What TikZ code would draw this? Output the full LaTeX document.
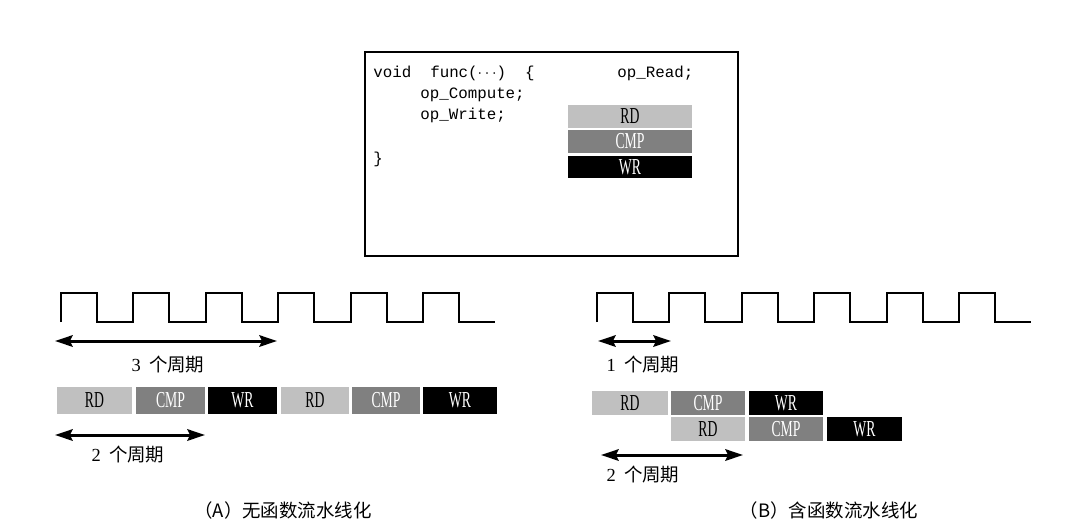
\documentclass[tikz,border=0pt]{standalone}
\usepackage{fontspec}
\setmainfont{Liberation Serif}
\setmonofont{Liberation Mono}
\newfontfamily\cjk{Noto Sans CJK SC}
\usetikzlibrary{arrows.meta, positioning}
\definecolor{StageLight}{RGB}{192,192,192}
\definecolor{StageMid}{RGB}{128,128,128}
\newcommand\narrow[1]{\scalebox{0.6}[1]{#1}}

\begin{document}
\begin{tikzpicture}[x=0.02cm, y=-0.02cm,
    stage/.style={anchor=north west, inner sep=0pt, outer sep=0pt,
      minimum height=0.54cm, font=\fontsize{13}{13}\selectfont},
    rd/.style={stage, fill=StageLight, text=black},
    cmp/.style={stage, fill=StageMid, text=white},
    wr/.style={stage, fill=black, text=white},
    clock/.style={line width=1.1pt, line join=miter},
    cyclespan/.style={{Stealth[length=10pt,width=6.5pt,inset=1.5pt]}-{Stealth[length=10pt,width=6.5pt,inset=1.5pt]}, line width=1.7pt},
    codetext/.style={anchor=base west, inner sep=0pt, font=\ttfamily\fontsize{9}{11}\selectfont},
    cyclelabel/.style={inner sep=0pt, font=\fontsize{10.5}{12}\selectfont},
    caption/.style={inner sep=0pt, font=\cjk\fontsize{10.5}{12}\selectfont}]
    \useasboundingbox (0,0) rectangle (1078,528);

    % Code box
    \node[draw, line width=1.2pt, anchor=north west, inner sep=0pt,
      minimum width=7.46cm, minimum height=4.08cm] (codebox) at (364,51) {};
    \node[codetext] (c1) at (373,77) {void\ \ func($\cdots$)\ \ \{};
    \node[codetext] (c2) at (617,77) {op\_Read;};
    \node[codetext] (c3) at (420,98) {op\_Compute;};
    \node[codetext] (c4) at (420,119) {op\_Write;};
    \node[codetext] (c5) at (373,163) {\}};

    % Stacked stages
    \node[rd, minimum width=2.48cm, minimum height=0.46cm] (s1) at (568,105) {\narrow{RD}};
    \node[cmp, minimum width=2.48cm, minimum height=0.46cm] (s2) at (568,130) {\narrow{CMP}};
    \node[wr, minimum width=2.48cm, minimum height=0.44cm] (s3) at (568,156) {\narrow{WR}};

    % (A) clock
    \draw[clock] (61,322) \foreach \i in {1,...,6} {
      -- ++(0,-29) -- ++(36,0) -- ++(0,29) -- ++(36.4,0) };

    \coordinate (a1) at (55,341);
    \coordinate (a2) at (277,341);
    \draw[cyclespan] (a1) -- (a2);
    \node[cyclelabel] (ta1) at (168,365) {3\hspace{0.45em}{\cjk 个周期}};

    % (A) stages, one after another
    \node[rd, minimum width=1.5cm] (ra1) at (57,387) {\narrow{RD}};
    \node[cmp, minimum width=1.38cm] (ca1) at (136,387) {\narrow{CMP}};
    \node[wr, minimum width=1.38cm] (wa1) at (208,387) {\narrow{WR}};
    \node[rd, minimum width=1.36cm] (ra2) at (281,387) {\narrow{RD}};
    \node[cmp, minimum width=1.36cm] (ca2) at (352,387) {\narrow{CMP}};
    \node[wr, minimum width=1.48cm] (wa2) at (423,387) {\narrow{WR}};

    \coordinate (a3) at (55,435);
    \coordinate (a4) at (205,435);
    \draw[cyclespan] (a3) -- (a4);
    \node[cyclelabel] (ta2) at (128,455) {2\hspace{0.45em}{\cjk 个周期}};

    \node[caption] (capa) at (283,510) {（A）无函数流水线化};

    % (B) clock
    \draw[clock] (597,322) \foreach \i in {1,...,6} {
      -- ++(0,-29) -- ++(36,0) -- ++(0,29) -- ++(36.4,0) };

    \coordinate (b1) at (598,341);
    \coordinate (b2) at (671,341);
    \draw[cyclespan] (b1) -- (b2);
    \node[cyclelabel] (tb1) at (643,365) {1\hspace{0.45em}{\cjk 个周期}};

    % (B) stages, overlapped
    \node[rd, minimum width=1.52cm, minimum height=0.48cm] (rb1) at (592,391) {\narrow{RD}};
    \node[cmp, minimum width=1.48cm, minimum height=0.48cm] (cb1) at (671,391) {\narrow{CMP}};
    \node[wr, minimum width=1.48cm, minimum height=0.48cm] (wb1) at (749,391) {\narrow{WR}};
    \node[rd, minimum width=1.48cm, minimum height=0.48cm] (rb2) at (671,417) {\narrow{RD}};
    \node[cmp, minimum width=1.48cm, minimum height=0.48cm] (cb2) at (749,417) {\narrow{CMP}};
    \node[wr, minimum width=1.5cm, minimum height=0.48cm] (wb2) at (827,417) {\narrow{WR}};

    \coordinate (b3) at (601,455);
    \coordinate (b4) at (743,455);
    \draw[cyclespan] (b3) -- (b4);
    \node[cyclelabel] (tb2) at (643,475) {2\hspace{0.45em}{\cjk 个周期}};

    \node[caption] (capb) at (829,510) {（B）含函数流水线化};
\end{tikzpicture}
\end{document}
